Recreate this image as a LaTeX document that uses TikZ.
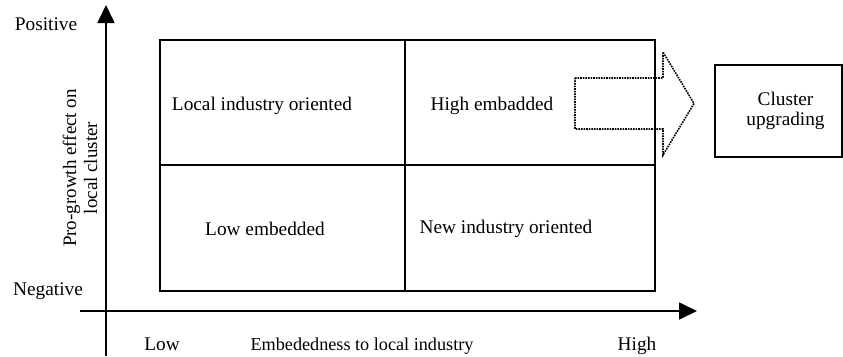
\documentclass[tikz,border=0pt]{standalone}
\usepackage{fontspec}
\setmainfont{Liberation Serif}
\usetikzlibrary{arrows.meta}

\tikzset{
  axis/.style={line width=1.7pt, -{Triangle[length=18pt,width=17pt]}},
  gridline/.style={line width=1.7pt},
  lbl/.style={inner sep=0pt, anchor=base, font=\fontsize{19.3}{20}\selectfont},
  upgradebox/.style={draw, line width=1.7pt, minimum width=127pt,
                     minimum height=92pt, inner sep=0pt},
  hintarrow/.style={line width=1.6pt, densely dotted}
}

\begin{document}
\begin{tikzpicture}[x=1pt,y=-1pt]
\useasboundingbox (0,0) rectangle (843,356);

% axes
\coordinate (yfoot) at (106,356);
\coordinate (ytip) at (106,5);
\coordinate (xfoot) at (80,311);
\coordinate (xtip) at (697,311);
\draw[axis] (yfoot) -- (ytip);
\draw[axis] (xfoot) -- (xtip);

% quadrant grid
\coordinate (gridNW) at (160,40);
\coordinate (gridSE) at (655,291);
\coordinate (midtop) at (405,40);
\coordinate (midbot) at (405,291);
\coordinate (midleft) at (160,165);
\coordinate (midright) at (655,165);
\draw[gridline] (gridNW) rectangle (gridSE);
\draw[gridline] (midtop) -- (midbot);
\draw[gridline] (midleft) -- (midright);

% axis labels
\node[lbl] (pos) at (46,30) {Positive};
\node[lbl] (neg) at (48,295) {Negative};
\node[inner sep=0pt, rotate=90, align=center,
      font=\fontsize{19}{21}\selectfont] (yname) at (80,168)
      {Pro-growth effect on\\local cluster};
\node[lbl] (low) at (162,350) {Low};
\node[lbl, font=\fontsize{18.2}{20}\selectfont] (xname) at (362,350)
      {Embededness to local industry};
\node[lbl] (high) at (637,350) {High};

% quadrant labels
\node[lbl] (q1) at (262,110) {Local industry oriented};
\node[lbl] (q2) at (492,110) {High embadded};
\node[lbl] (q3) at (265,235) {Low embedded};
\node[lbl] (q4) at (506,233) {New industry oriented};

% dotted block arrow out of the upper-right quadrant
\draw[hintarrow] (575,78) -- (663,78) -- (663,52) -- (694,103.5)
  -- (663,155) -- (663,129) -- (575,129) -- cycle;

% upgrading box, its text sitting a little right of centre
\node[upgradebox] (up) at (778.5,111) {};
\node[inner sep=0pt, align=center, font=\fontsize{19.3}{19.5}\selectfont]
      (uptext) at ([xshift=7pt]up.center) {Cluster\\upgrading};
\end{tikzpicture}
\end{document}
